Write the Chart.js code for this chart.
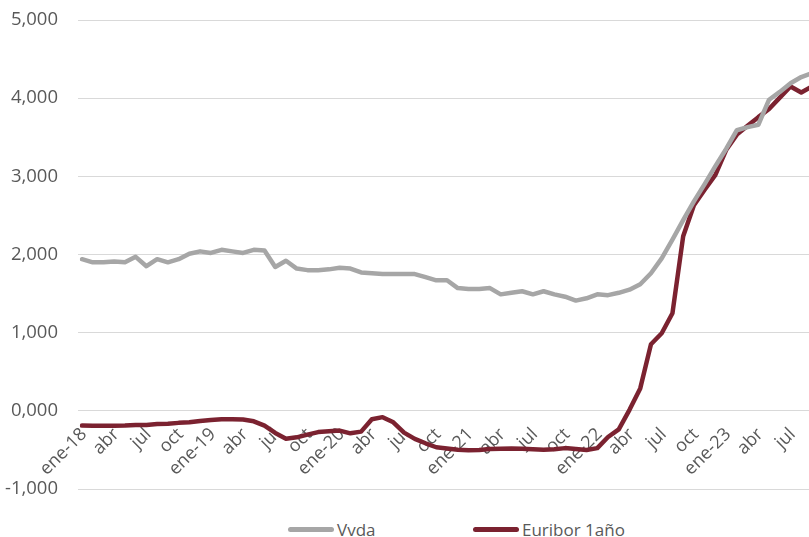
<!DOCTYPE html>
<html>
<head>
<meta charset="utf-8">
<script src="https://cdn.jsdelivr.net/npm/chart.js@4.4.0/dist/chart.umd.min.js"></script>
<style>
  html, body { margin: 0; padding: 0; background: #fff; overflow: hidden; }
  #wrap { position: relative; width: 809px; height: 537px; overflow: hidden; }
  #chartBox { position: absolute; left: 0; top: 0; width: 812px; height: 500px; }
  .leg { position: absolute; top: 517px; height: 24px; display: flex; align-items: center;
         font: 17px "Open Sans", sans-serif; color: #595959; white-space: nowrap; }
  .leg i { display: inline-block; width: 46px; height: 5px; border-radius: 3px; margin-right: 3px; }
</style>
</head>
<body>
<div id="wrap">
  <div id="chartBox"><canvas id="rates"></canvas></div>
  <div class="leg" style="left:288px"><i id="sw0"></i><span id="lb0"></span></div>
  <div class="leg" style="left:473px"><i id="sw1"></i><span id="lb1"></span></div>
</div>
<script>
// months ene-18 .. sep-23
var monthNames = ['ene', 'feb', 'mar', 'abr', 'may', 'jun', 'jul', 'ago', 'sep', 'oct', 'nov', 'dic'];
var years = ['18', '19', '20', '21', '22', '23'];
var categories = [];
years.forEach(function (y) {
    monthNames.forEach(function (m) { categories.push(m + '-' + y); });
});
categories = categories.slice(0, 69);

// one label every three months
var tickLabels = ['ene-18', 'abr', 'jul', 'oct', 'ene-19', 'abr', 'jul', 'oct',
    'ene-20', 'abr', 'jul', 'oct', 'ene-21', 'abr', 'jul', 'oct',
    'ene-22', 'abr', 'jul', 'oct', 'ene-23', 'abr', 'jul'];

var seriesNames = ['Vvda', 'Euribor 1año'];

var vvda = [
    1.94, 1.90, 1.90, 1.91, 1.90, 1.97, 1.85, 1.94, 1.90, 1.94, 2.01, 2.04,
    2.02, 2.06, 2.04, 2.02, 2.06, 2.05, 1.84, 1.92, 1.82, 1.80, 1.80, 1.81,
    1.83, 1.82, 1.77, 1.76, 1.75, 1.75, 1.75, 1.75, 1.71, 1.67, 1.67, 1.57,
    1.56, 1.56, 1.57, 1.49, 1.51, 1.53, 1.49, 1.53, 1.49, 1.46, 1.41, 1.44,
    1.49, 1.48, 1.51, 1.55, 1.62, 1.76, 1.95, 2.19, 2.44, 2.68, 2.90, 3.13,
    3.35, 3.59, 3.63, 3.66, 3.98, 4.08, 4.19, 4.27, 4.32
];

var euribor = [
    -0.189, -0.191, -0.191, -0.190, -0.188, -0.181, -0.180, -0.169, -0.166, -0.154, -0.147, -0.129,
    -0.116, -0.108, -0.109, -0.112, -0.134, -0.190, -0.283, -0.356, -0.339, -0.304, -0.272, -0.261,
    -0.253, -0.288, -0.266, -0.108, -0.081, -0.147, -0.279, -0.359, -0.415, -0.466, -0.481, -0.497,
    -0.505, -0.501, -0.487, -0.484, -0.481, -0.484, -0.491, -0.498, -0.492, -0.477, -0.487, -0.502,
    -0.477, -0.335, -0.237, 0.013, 0.287, 0.852, 0.992, 1.249, 2.233, 2.629, 2.828, 3.018,
    3.337, 3.534, 3.647, 3.757, 3.862, 4.007, 4.149, 4.073, 4.149
];

var colors = ['#A6A6A6', '#7B2230'];
var textColor = '#595959';

// html legend
for (let i = 0; i < 2; i++) {
    document.getElementById('sw' + i).style.background = colors[i];
    document.getElementById('lb' + i).textContent = seriesNames[i];
}

let ctx = document.getElementById('rates').getContext('2d');

var ratesChart = new Chart(ctx, {
    type: 'line',
    data: {
        labels: categories,
        datasets: [
            {
                label: seriesNames[0],
                data: vvda,
                borderColor: colors[0],
                borderWidth: 4.5,
                pointRadius: 0,
                tension: 0,
                borderJoinStyle: 'round',
                borderCapStyle: 'round'
            },
            {
                label: seriesNames[1],
                data: euribor,
                borderColor: colors[1],
                borderWidth: 4.5,
                pointRadius: 0,
                tension: 0,
                borderJoinStyle: 'round',
                borderCapStyle: 'round'
            }]
    },
    options: {
        responsive: true,
        maintainAspectRatio: false,
        animation: false,
        devicePixelRatio: 1,
        layout: { autoPadding: false, padding: { top: 20, left: 0, right: 0, bottom: 11 } },
        plugins: {
            legend: { display: false },
            tooltip: { enabled: false }
        },
        scales: {
            x: {
                position: { y: 0 },
                offset: false,
                grid: { display: false, drawTicks: false },
                border: { display: false },
                afterFit: function (scale) {
                    scale.height = 0;
                    scale.paddingLeft = 0;
                    scale.paddingRight = 0;
                },
                ticks: {
                    autoSkip: false,
                    minRotation: 45,
                    maxRotation: 45,
                    padding: 13,
                    labelOffset: 2,
                    color: textColor,
                    font: { family: '"Open Sans", sans-serif', size: 18 },
                    callback: function (value, index) {
                        return index % 3 === 0 ? tickLabels[index / 3] : '';
                    }
                }
            },
            y: {
                min: -1,
                max: 5,
                grid: { color: '#D9D9D9', lineWidth: 1, drawTicks: true, tickLength: 4, tickColor: '#D9D9D9' },
                border: { display: false },
                afterFit: function (scale) {
                    scale.width = 82;
                    scale.paddingTop = 0;
                    scale.paddingBottom = 0;
                },
                ticks: {
                    stepSize: 1,
                    padding: 20,
                    color: textColor,
                    font: { family: '"Open Sans", sans-serif', size: 18.5 },
                    callback: function (v) { return v.toFixed(3).replace('.', ','); }
                }
            }
        }
    }
});
</script>
</body>
</html>
